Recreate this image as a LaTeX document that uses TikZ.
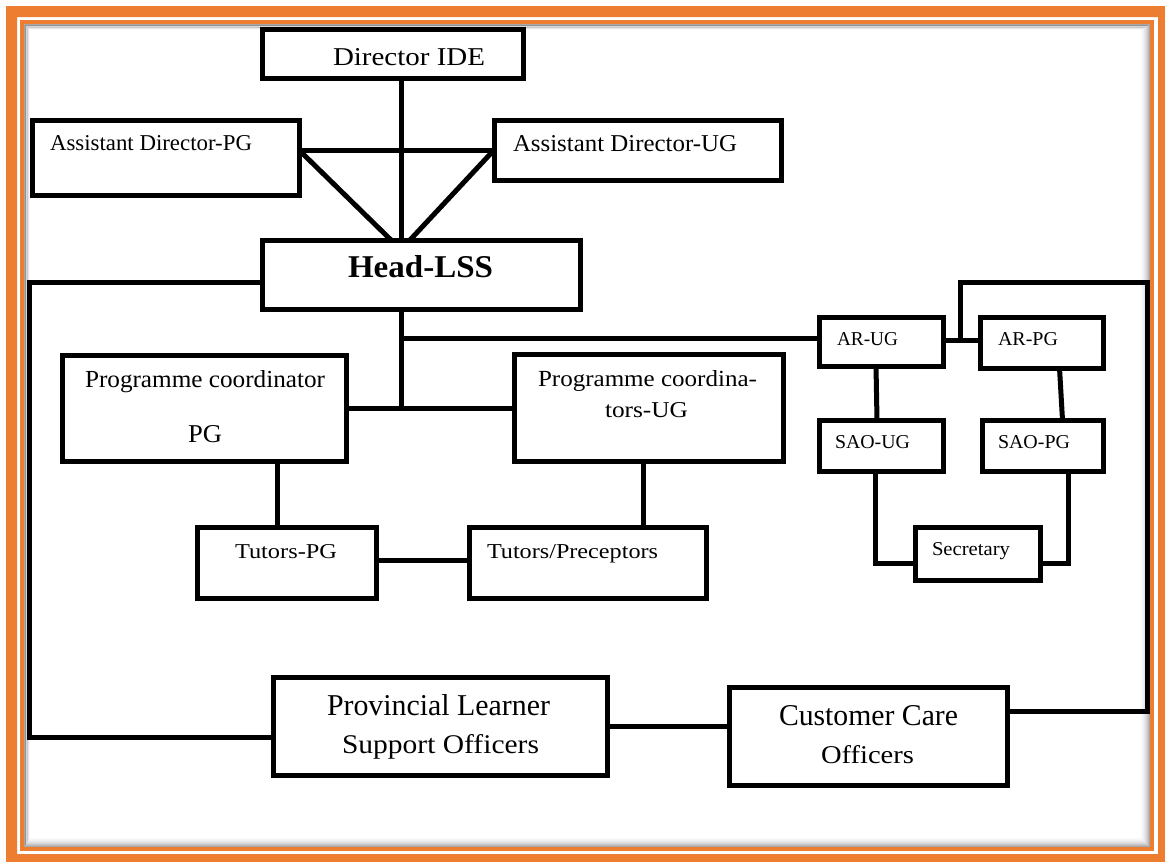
\documentclass[tikz,border=0pt]{standalone}
\usepackage{fontspec}
\setmainfont{Liberation Serif}
\usepackage{graphicx}
\definecolor{frameorange}{HTML}{ED7D31}
\tikzset{
  orgbox/.style={draw=black, line width=5pt, rectangle, inner sep=0pt, outer sep=0pt},
  link/.style={draw=black, line width=5pt},
  txt/.style={inner sep=0pt, outer sep=0pt, text=black},
}
% box: name, centre x, centre y, width, height
\newcommand\boxat[5]{\node[orgbox, minimum width=#4pt, minimum height=#5pt] (#1) at (#2,#3) {};}
% label: name, baseline-left x, baseline y, width, height, text
\newcommand\lbl[6]{\node[txt, anchor=base west] (#1) at (#2,#3) {\resizebox{#4pt}{#5pt}{#6}};}
\begin{document}
\begin{tikzpicture}[x=1pt, y=-1pt]
\useasboundingbox (0,0) rectangle (1165,862);
\fill[white] (0,0) rectangle (1165,862);
\begin{scope}
\clip (0,0) rectangle (1165,862);
% double orange frame
\fill[frameorange, even odd rule] (6,6) rectangle (1172,869) (17,17) rectangle (1158,854);
\draw[frameorange, line width=4pt] (22,22) rectangle (1152,849);
% inset shadow along the inner edge
\foreach \i/\o in {1/0.34,2/0.27,3/0.21,4/0.16,5/0.12,6/0.09,7/0.06,8/0.04,9/0.02}
  \draw[black, opacity=\o, line width=1pt] ({24+\i*0.6},{24+\i*0.6}) rectangle ({1150-\i},{847-\i});
\end{scope}

% boxes
\boxat{dir}{392.5}{53.5}{261}{49}
\boxat{adpg}{165.5}{157.5}{267}{75}
\boxat{adug}{637.5}{150}{287}{60}
\boxat{head}{421}{274.5}{318}{69}
\boxat{pcpg}{204}{408}{284}{106}
\boxat{pcug}{648.5}{407.5}{269}{107}
\boxat{tpg}{286.5}{562.5}{179}{71}
\boxat{tpr}{587.5}{562.5}{237}{71}
\boxat{arug}{881}{341.5}{124}{49}
\boxat{arpg}{1041.5}{342.5}{123}{51}
\boxat{saoug}{881}{445.5}{124}{51}
\boxat{saopg}{1042.5}{445.5}{121}{51}
\boxat{sec}{977.5}{553.5}{125}{53}
\boxat{plso}{440}{726}{334}{98}
\boxat{cco}{868}{736}{278}{98}

% labels
\lbl{tdir}{333}{65}{152}{17}{Director IDE}
\lbl{tadpg}{50}{150}{202}{15}{Assistant Director-PG}
\lbl{tadug}{513}{151}{224}{16}{Assistant Director-UG}
\lbl{thead}{348}{277}{145}{22}{\bfseries Head-LSS}
\lbl{tpcpga}{85}{387}{240}{17}{Programme coordinator}
\lbl{tpcpgb}{188}{442}{34}{17}{PG}
\lbl{tpcuga}{538}{386}{219}{16}{Programme coordina-}
\lbl{tpcugb}{605}{417}{83}{15}{tors-UG}
\lbl{ttpg}{235}{558}{102}{14}{Tutors-PG}
\lbl{ttpr}{487}{558}{171}{14}{Tutors/Preceptors}
\lbl{tarug}{837}{345}{61}{13}{AR-UG}
\lbl{tarpg}{998}{345}{60}{13}{AR-PG}
\lbl{tsaoug}{835}{448}{75}{13}{SAO-UG}
\lbl{tsaopg}{998}{448}{72}{13}{SAO-PG}
\lbl{tsec}{932}{555}{78}{13}{Secretary}
\lbl{tpla}{327}{715}{223}{21}{Provincial Learner}
\lbl{tplb}{342}{753}{197}{19}{Support Officers}
\lbl{tcca}{779}{725}{179}{20}{Customer Care}
\lbl{tccb}{821}{763}{93}{18}{Officers}

% guide coordinates for the connector routes
\coordinate (spine) at (401,0);
\coordinate (yad) at (0,150);
\coordinate (yar) at (0,338);
\coordinate (yhl) at (0,282);
\coordinate (ypl) at (0,737);
\coordinate (lx) at (29,0);
\coordinate (ycc) at (0,711);
\coordinate (rx) at (1147,0);
\coordinate (jx) at (960,0);
\coordinate (yarj) at (0,340);
\coordinate (ysec) at (0,563);
\coordinate (ytu) at (0,560);
\coordinate (cpg) at (277,0);
\coordinate (cug) at (643,0);
\coordinate (apex) at (head.north -| spine);

% connectors
\draw[link] (dir.south -| spine) -- (apex);
\draw[link] (adpg.east |- yad) -- (adug.west |- yad);
\draw[link] (adpg.east |- yad) -- ([xshift=-10pt]apex);
\draw[link] (adug.west |- yad) -- ([xshift=9pt]apex);
\draw[link] (head.south -| spine) -- (spine |- pcpg.east);
\draw[link] (pcpg.east) -- (pcug.west |- pcpg.east);
\draw[link] (spine |- yar) -- (arug.west |- yar);
\draw[link] (head.west |- yhl) -- (lx |- yhl) -- (lx |- ypl) -- (plso.west |- ypl);
\draw[link] (plso.east) -- (cco.west |- plso.east);
\draw[link] (cco.east |- ycc) -- (rx |- ycc) -- (rx |- yhl) -- (jx |- yhl) -- (jx |- yarj);
\draw[link] (arug.east |- yarj) -- (arpg.west |- yarj);
\draw[link] ([xshift=-5pt]arug.south) -- ([xshift=-4pt]saoug.north);
\draw[link] ([xshift=18pt]arpg.south) -- ([xshift=20pt]saopg.north);
\draw[link] ([xshift=-6pt]saoug.south) -- ([xshift=-6pt]saoug.south |- ysec) -- (sec.west |- ysec);
\draw[link] ([xshift=25.5pt]saopg.south) -- ([xshift=25.5pt]saopg.south |- ysec) -- (sec.east |- ysec);
\draw[link] (pcpg.south -| cpg) -- (tpg.north -| cpg);
\draw[link] (pcug.south -| cug) -- (tpr.north -| cug);
\draw[link] (tpg.east |- ytu) -- (tpr.west |- ytu);
\end{tikzpicture}
\end{document}
